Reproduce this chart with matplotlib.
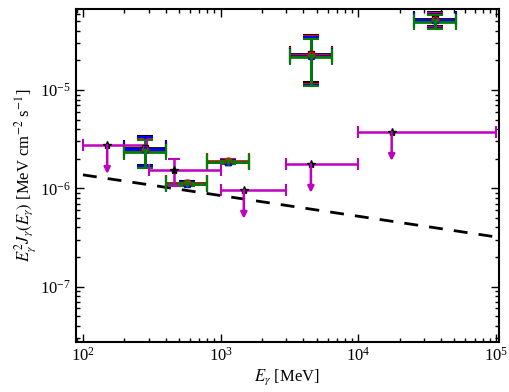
import numpy as np
import matplotlib
matplotlib.use('Agg')
import matplotlib.pyplot as plt

plt.rcParams['font.family'] = ['Liberation Serif', 'DejaVu Serif']
plt.rcParams['mathtext.fontset'] = 'stix'
plt.rcParams['font.size'] = 12

# upper limits (magenta stars)
ul_e = [150, 458, 1475, 4530, 17500]
ul_e_lo = [100, 300, 1000, 3000, 10000]
ul_e_hi = [290, 1000, 3000, 10000, 100000]
ul_flux = [2.77e-6, 1.54e-6, 9.7e-7, 1.77e-6, 3.75e-6]
ul_is_limit = [True, False, True, True, True]
ul_flux_dn = [1.4e-6, 1.06e-6, 4.9e-7, 9.0e-7, 1.9e-6]
ul_flux_up = [2.77e-6, 2.0e-6, 9.7e-7, 1.77e-6, 3.75e-6]

# detected points, four analyses
det_e = [282, 566, 1131, 4525, 36200]
det_e_lo = [200, 400, 800, 3200, 25600]
det_e_hi = [400, 800, 1600, 6400, 51200]
det_flux = {
    'k': [2.55e-6, 1.13e-6, 1.87e-6, 2.35e-5, 5.3e-5],
    'r': [2.45e-6, 1.12e-6, 1.89e-6, 2.28e-5, 5.2e-5],
    'b': [2.50e-6, 1.11e-6, 1.86e-6, 2.22e-5, 5.1e-5],
    'g': [2.35e-6, 1.10e-6, 1.84e-6, 2.15e-5, 4.95e-5],
}
det_rel_up = [1.32, 1.04, 1.04, 1.55, 1.16]
det_rel_dn = [0.68, 0.96, 0.96, 0.51, 0.84]
det_marker = {'k': 's', 'r': 'o', 'b': '^', 'g': 'v'}
det_color = {'k': 'black', 'r': 'red', 'b': 'blue', 'g': 'green'}

# sensitivity line
sens_e = [1e2, 1e5]
sens_flux = [1.37e-6, 3.2e-7]

fig = plt.figure(figsize=(5.1, 3.92), dpi=100)
ax = fig.add_axes([0.149, 0.128, 0.829, 0.849])

ax.plot(sens_e, sens_flux, 'k--', lw=2, dashes=(5, 4))

for key in ['k', 'r', 'b', 'g']:
    y = np.array(det_flux[key])
    x = np.array(det_e)
    xerr = [x - np.array(det_e_lo), np.array(det_e_hi) - x]
    yerr = [y - y * np.array(det_rel_dn), y * np.array(det_rel_up) - y]
    ax.errorbar(x, y, xerr=xerr, yerr=yerr, fmt=det_marker[key],
                color=det_color[key], mfc='none' if key == 'k' else det_color[key],
                mec=det_color[key], ms=5, lw=2, capsize=6, capthick=1.5)

x = np.array(ul_e)
y = np.array(ul_flux)
xerr = [x - np.array(ul_e_lo), np.array(ul_e_hi) - x]
for i in range(len(x)):
    ax.errorbar(x[i], y[i], xerr=[[xerr[0][i]], [xerr[1][i]]],
                fmt='none', ecolor='m', lw=1.8, capsize=4, capthick=1.5)
    if ul_is_limit[i]:
        ax.annotate('', xy=(x[i], ul_flux_dn[i]), xytext=(x[i], y[i]),
                    arrowprops=dict(arrowstyle='-|>', color='m', lw=1.8,
                                    mutation_scale=9, shrinkA=0, shrinkB=0))
    else:
        ax.errorbar(x[i], y[i],
                    yerr=[[y[i] - ul_flux_dn[i]], [ul_flux_up[i] - y[i]]],
                    fmt='none', ecolor='m', lw=1.8, capsize=4, capthick=1.5)
ax.plot(x, y, '*', color='k', ms=6, ls='none')

ax.set_xscale('log')
ax.set_yscale('log')
ax.set_xlim(89, 1.05e5)
ax.set_ylim(2.74e-8, 6.67e-5)
ax.tick_params(which='both', direction='in', top=True, right=True)
ax.tick_params(which='major', length=6, width=1)
ax.tick_params(which='minor', length=3, width=1)
for s in ax.spines.values():
    s.set_linewidth(1.5)

ax.set_xlabel(r'$E_\gamma$ [MeV]', labelpad=2)
ax.set_ylabel(r'$E_\gamma^2 J_\gamma(E_\gamma)$ [MeV cm$^{-2}$ s$^{-1}$]', labelpad=2)

plt.savefig('out.png', dpi=100)
